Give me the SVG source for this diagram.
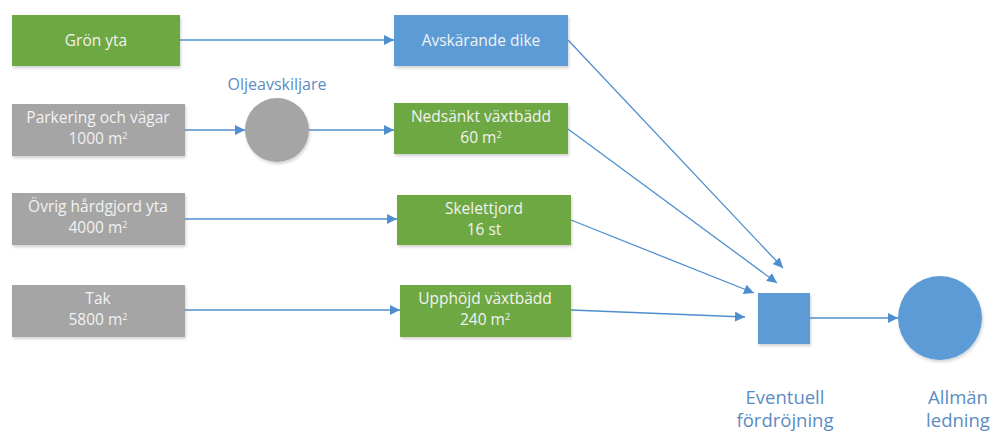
<svg xmlns="http://www.w3.org/2000/svg" width="995" height="432" viewBox="0 0 995 432">
<defs>
<marker id="ah" viewBox="0 0 10 10" refX="10" refY="5" markerWidth="10" markerHeight="10" markerUnits="userSpaceOnUse" orient="auto">
<path d="M0,0 L10,5 L0,10 z" fill="#4f8fcf"/>
</marker>
<filter id="sh" x="-10%" y="-10%" width="130%" height="140%">
<feDropShadow dx="1" dy="2" stdDeviation="1.5" flood-color="#000" flood-opacity="0.18"/>
</filter>
<style>
.g{fill:#6ea843;filter:url(#sh)}
.b{fill:#5b9bd5;filter:url(#sh)}
.gr{fill:#a5a5a5;filter:url(#sh)}
.t{font-family:"Open Sans","Noto Sans",sans-serif;font-size:15.5px;fill:#f2f2f2;text-anchor:middle}
.s{font-size:9px}
.l{font-family:"Open Sans","Noto Sans",sans-serif;fill:#5a8cc4;text-anchor:middle}
.c{stroke:#4f8fcf;stroke-width:1.3;fill:none;marker-end:url(#ah)}
</style>
</defs>
<rect width="995" height="432" fill="#fff"/>
<g id="gron"><rect class="g" x="12" y="15" width="168" height="51"/><text class="t" x="96" y="46">Grön yta</text></g>
<g id="parkering"><rect class="gr" x="12" y="104" width="173" height="52"/><text class="t" x="98" y="123">Parkering och vägar</text><text class="t" x="98" y="144">1000 m<tspan class="s" dy="-5">2</tspan></text></g>
<g id="ovrig"><rect class="gr" x="12" y="193" width="173" height="52"/><text class="t" x="98" y="212">Övrig hårdgjord yta</text><text class="t" x="98" y="233">4000 m<tspan class="s" dy="-5">2</tspan></text></g>
<g id="tak"><rect class="gr" x="12" y="285" width="173" height="52"/><text class="t" x="98" y="304">Tak</text><text class="t" x="98" y="325">5800 m<tspan class="s" dy="-5">2</tspan></text></g>
<g id="olje"><circle class="gr" cx="277" cy="130" r="32"/><text class="l" x="277" y="90" font-size="16">Oljeavskiljare</text></g>
<g id="avskarande"><rect class="b" x="394" y="15" width="174" height="51"/><text class="t" x="481" y="46">Avskärande dike</text></g>
<g id="nedsankt"><rect class="g" x="394" y="103" width="174" height="51"/><text class="t" x="481" y="122">Nedsänkt växtbädd</text><text class="t" x="481" y="143">60 m<tspan class="s" dy="-5">2</tspan></text></g>
<g id="skelett"><rect class="g" x="397" y="195" width="174" height="50"/><text class="t" x="484" y="214">Skelettjord</text><text class="t" x="484" y="235">16 st</text></g>
<g id="upphojd"><rect class="g" x="400" y="285" width="171" height="52"/><text class="t" x="485" y="304">Upphöjd växtbädd</text><text class="t" x="485" y="325">240 m<tspan class="s" dy="-5">2</tspan></text></g>
<g id="fordrojning"><rect class="b" x="758" y="293" width="52" height="51"/><text class="l" x="785" y="404" font-size="18.5">Eventuell</text><text class="l" x="785" y="427" font-size="18.5">fördröjning</text></g>
<g id="allman"><circle class="b" cx="940" cy="318" r="42"/><text class="l" x="958" y="404" font-size="18.5">Allmän</text><text class="l" x="958" y="427" font-size="18.5">ledning</text></g>
<g id="connectors">
<line class="c" x1="180" y1="40" x2="394" y2="40"/>
<line class="c" x1="185" y1="130" x2="245" y2="130"/>
<line class="c" x1="309" y1="130" x2="394" y2="130"/>
<line class="c" x1="185" y1="219" x2="397" y2="219"/>
<line class="c" x1="185" y1="310" x2="400" y2="310"/>
<line class="c" x1="568" y1="40" x2="783" y2="268"/>
<line class="c" x1="568" y1="129" x2="777" y2="283"/>
<line class="c" x1="571" y1="220" x2="754" y2="293"/>
<line class="c" x1="571" y1="310" x2="745" y2="317"/>
<line class="c" x1="810" y1="318" x2="898" y2="318"/>
</g>
</svg>
